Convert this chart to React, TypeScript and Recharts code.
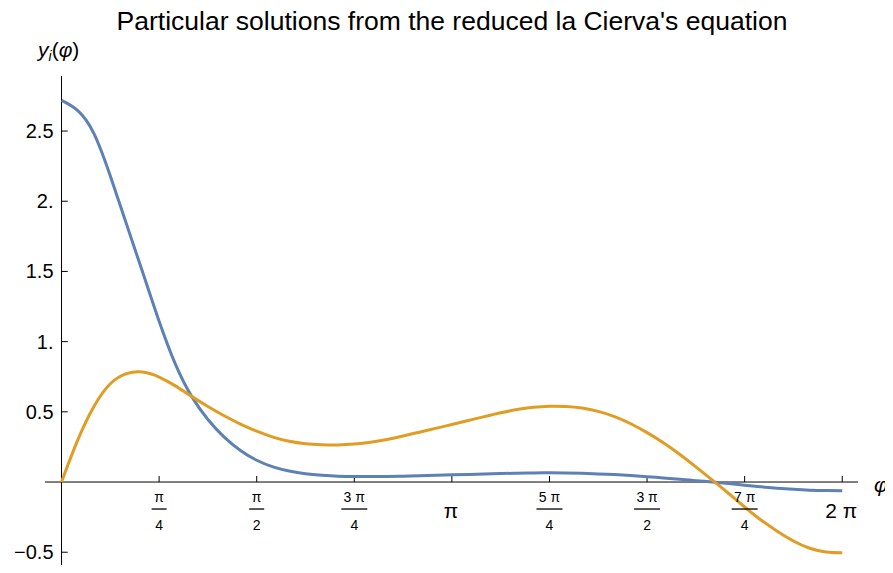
import React from "react";
import {
  LineChart,
  Line,
  XAxis,
  YAxis,
  ReferenceLine,
  ReferenceDot,
} from "recharts";

const PI = Math.PI;

// phi sampled every pi/24
const phiSteps = [
  0, 1, 2, 3, 4, 5, 6, 7, 8, 9, 10, 11, 12, 13, 14, 15, 16, 17, 18, 19, 20,
  21, 22, 23, 24, 25, 26, 27, 28, 29, 30, 31, 32, 33, 34, 35, 36, 37, 38, 39,
  40, 41, 42, 43, 44, 45, 46, 47, 48,
];

const y1Values = [
  2.718, 2.645, 2.48, 2.18, 1.835, 1.49, 1.145, 0.84, 0.61, 0.445, 0.32, 0.225,
  0.155, 0.108, 0.078, 0.059, 0.048, 0.041, 0.039, 0.039, 0.04, 0.042, 0.045,
  0.048, 0.051, 0.054, 0.057, 0.06, 0.063, 0.065, 0.066, 0.065, 0.062, 0.058,
  0.053, 0.046, 0.038, 0.029, 0.02, 0.01, 0.0, -0.011, -0.023, -0.034, -0.044,
  -0.052, -0.058, -0.061, -0.062,
];

const y2Values = [
  0, 0.3, 0.54, 0.7, 0.772, 0.783, 0.748, 0.685, 0.61, 0.538, 0.472, 0.413,
  0.362, 0.32, 0.29, 0.273, 0.266, 0.264, 0.27, 0.283, 0.303, 0.328, 0.355,
  0.382, 0.41, 0.438, 0.466, 0.493, 0.516, 0.532, 0.54, 0.538, 0.527, 0.503,
  0.466, 0.415, 0.352, 0.28, 0.198, 0.108, 0.015, -0.08, -0.178, -0.27, -0.35,
  -0.42, -0.472, -0.498, -0.503,
];

const xTickNum = ["π", "π", "3 π", "", "5 π", "3 π", "7 π", ""];
const xTickDen = ["4", "2", "4", "", "4", "2", "4", ""];
const xTickPlain = ["", "", "", "π", "", "", "", "2 π"];
const xTickValues = [1, 2, 3, 4, 5, 6, 7, 8].map((k) => (k * PI) / 4);

const yTickValues = [-0.5, 0.5, 1, 1.5, 2, 2.5];
const yTickLabels = ["−0.5", "0.5", "1.", "1.5", "2.", "2.5"];

const data = phiSteps.map((k, i) => ({
  phi: (k * PI) / 24,
  y1: y1Values[i],
  y2: y2Values[i],
}));

const BLUE = "#5E81B5";
const ORANGE = "#E19C24";
const FONT = "'Liberation Sans', Arial, sans-serif";

const center = (vb: any) => ({
  cx: vb.x + vb.width / 2,
  cy: vb.y + vb.height / 2,
});

export default function App() {
  return (
    <div style={{ margin: -8, width: 893, height: 573, fontFamily: FONT }}>
      <LineChart
        width={893}
        height={573}
        data={data}
        margin={{ top: 76, right: 35, left: 45, bottom: 0 }}
      >
        <XAxis
          type="number"
          dataKey="phi"
          domain={[-0.133, 6.41]}
          allowDataOverflow
          hide
        />
        <YAxis type="number" domain={[-0.648, 2.892]} allowDataOverflow hide />
        <ReferenceLine y={0} stroke="#000" strokeWidth={1} />
        <ReferenceLine x={0} stroke="#000" strokeWidth={1} />
        {xTickValues.map((v) => (
          <ReferenceLine
            key={"xt" + v}
            segment={[
              { x: v, y: 0 },
              { x: v, y: 0.043 },
            ]}
            stroke="#000"
            strokeWidth={1}
          />
        ))}
        {yTickValues.map((v) => (
          <ReferenceLine
            key={"yt" + v}
            segment={[
              { x: 0, y: v },
              { x: 0.05, y: v },
            ]}
            stroke="#000"
            strokeWidth={1}
          />
        ))}
        {xTickValues.map((v, i) => (
          <ReferenceDot
            key={"xl" + v}
            x={v}
            y={0}
            r={1}
            fill="none"
            stroke="none"
            label={{
              content: (p: any) => {
                const { cx, cy } = center(p.viewBox);
                if (xTickPlain[i]) {
                  return (
                    <text
                      x={cx - 1}
                      y={cy + 36}
                      textAnchor="middle"
                      fontSize={21}
                      fontFamily={FONT}
                      fill="#000"
                    >
                      {xTickPlain[i]}
                    </text>
                  );
                }
                const w = xTickNum[i].length > 1 ? 26 : 15;
                return (
                  <g fontFamily={FONT} fontSize={14} fill="#000">
                    <text x={cx} y={cy + 20} textAnchor="middle">
                      {xTickNum[i]}
                    </text>
                    <line
                      x1={cx - w / 2}
                      x2={cx + w / 2}
                      y1={cy + 27}
                      y2={cy + 27}
                      stroke="#000"
                      strokeWidth={1.3}
                    />
                    <text x={cx} y={cy + 48} textAnchor="middle">
                      {xTickDen[i]}
                    </text>
                  </g>
                );
              },
            }}
          />
        ))}
        {yTickValues.map((v, i) => (
          <ReferenceDot
            key={"yl" + v}
            x={0}
            y={v}
            r={1}
            fill="none"
            stroke="none"
            label={{
              content: (p: any) => {
                const { cx, cy } = center(p.viewBox);
                return (
                  <text
                    x={cx - 8}
                    y={cy + 7}
                    textAnchor="end"
                    fontSize={20}
                    fontFamily={FONT}
                    fill="#000"
                  >
                    {yTickLabels[i]}
                  </text>
                );
              },
            }}
          />
        ))}
        <Line
          type="natural"
          dataKey="y1"
          stroke={BLUE}
          strokeWidth={3}
          dot={false}
          isAnimationActive={false}
        />
        <Line
          type="natural"
          dataKey="y2"
          stroke={ORANGE}
          strokeWidth={3}
          dot={false}
          isAnimationActive={false}
        />
        <text
          x={452}
          y={30}
          textAnchor="middle"
          fontSize={26.5}
          fontFamily={FONT}
          fill="#000"
        >
          Particular solutions from the reduced la Cierva's equation
        </text>
        <text x={38} y={57} fontSize={21} fontFamily={FONT} fill="#000">
          <tspan fontStyle="italic">y</tspan>
          <tspan fontStyle="italic" fontSize={14} dy={4}>
            i
          </tspan>
          <tspan dy={-4}>(</tspan>
          <tspan fontStyle="italic">φ</tspan>
          <tspan>)</tspan>
        </text>
        <text
          x={874}
          y={492}
          fontSize={21}
          fontStyle="italic"
          fontFamily={FONT}
          fill="#000"
        >
          φ
        </text>
      </LineChart>
    </div>
  );
}
